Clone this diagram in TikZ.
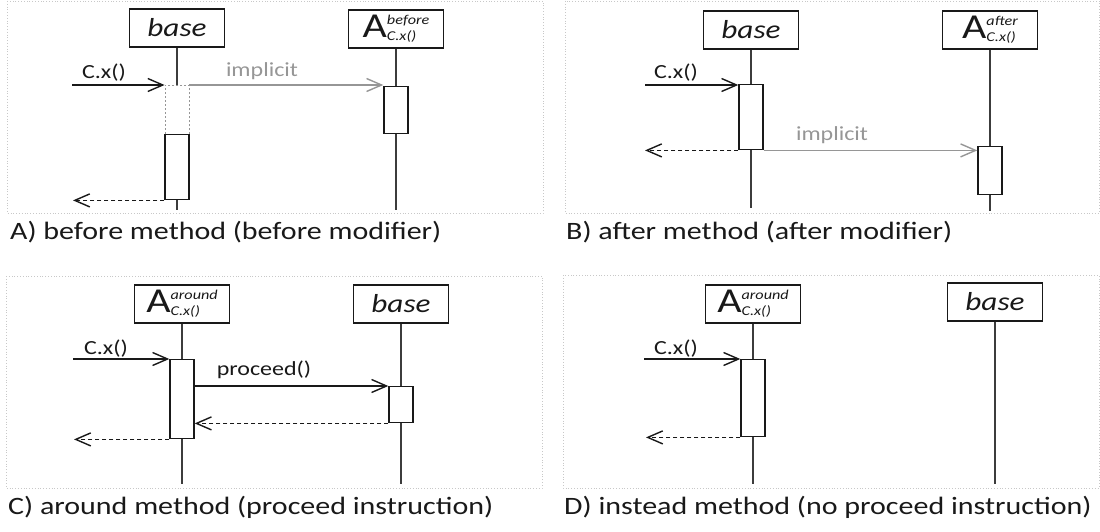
\documentclass[tikz,border=0pt]{standalone}
\usepackage{fontspec}
\setmainfont{Carlito}[FakeStretch=1.2]
\definecolor{sdblack}{RGB}{25,25,25}
\definecolor{sdgray}{RGB}{150,150,150}
\definecolor{sdframe}{RGB}{200,200,200}
\usetikzlibrary{arrows.meta,positioning}

% object labels
\newcommand{\basetxt}{{\fontsize{26}{26}\selectfont\itshape base}}
\newcommand{\advlbl}[1]{{\fontsize{35}{35}\selectfont A}%
  {\fontsize{13.5}{13.5}\selectfont\itshape\ooalign{\raisebox{13pt}{#1}\cr\raisebox{-3pt}{C.x()}\cr}}}

\tikzset{
  objbox/.style={draw=sdblack, line width=1.4pt, fill=white, text=sdblack,
    minimum width=95pt, minimum height=38pt, inner sep=0pt},
  actbox/.style={draw=sdblack, line width=1.4pt, fill=white, anchor=north,
    minimum width=24pt, inner sep=0pt},
  ghostbox/.style={actbox, draw=sdgray, line width=0.9pt, dash pattern=on 2pt off 2pt},
  life/.style={draw=sdblack!85, line width=1.4pt},
  call/.style={draw=sdblack, line width=1.4pt, -{Straight Barb[length=15pt,width=13pt]}},
  reply/.style={call, dash pattern=on 4pt off 3pt},
  implicitcall/.style={call, draw=sdgray},
  panel/.style={draw=sdframe, dotted, line width=0.8pt},
  msg/.style={font=\fontsize{20}{24}\selectfont, text=sdblack, inner sep=0pt},
  caption/.style={font=\fontsize{25}{30}\selectfont, text=sdblack, anchor=west, inner sep=0pt}
}

\begin{document}
\begin{tikzpicture}[x=1pt, y=-1pt]
  \useasboundingbox (0,0) rectangle (1100,532);

  % A) before method
  \draw[panel] (7,1) rectangle (543,213);
  \node[objbox] (baseA) at (177,28) {\basetxt};
  \node[objbox] (advA) at (396,29) {\advlbl{before}};
  \draw[life] (baseA.south) -- ++(0,162);
  \draw[life] (advA.south) -- ++(0,161);
  \node[ghostbox, minimum height=49pt] (ghostA) at (baseA |- 0,85) {};
  \node[actbox, minimum height=65pt] (actA) at (baseA |- 0,134) {};
  \node[actbox, minimum height=47pt] (actAadv) at (advA |- 0,86) {};
  \coordinate (inA) at (72,85);
  \coordinate (outA) at (73,198);
  \draw[call] (inA) -- (ghostA.north west);
  \node[msg] (cxA) at (104,73) {C.x()};
  \draw[implicitcall] (ghostA.north east) -- (ghostA.north east -| actAadv.west);
  \node[msg, text=sdgray] (implA) at (262,71) {implicit};
  \draw[reply] (actA.south west) -- (actA.south west -| outA);
  \node[caption] (capA) at (10,232) {A) before method (before modifier)};

  % B) after method
  \draw[panel] (565,1) rectangle (1099,213);
  \node[objbox] (baseB) at (751,30) {\basetxt};
  \node[objbox] (advB) at (990,30) {\advlbl{after}};
  \draw[life] (baseB.south) -- ++(0,158);
  \draw[life] (advB.south) -- ++(0,161);
  \node[actbox, minimum height=65pt] (actB) at (baseB |- 0,84) {};
  \node[actbox, minimum height=48pt] (actBadv) at (advB |- 0,146) {};
  \coordinate (inB) at (645,85);
  \coordinate (outB) at (645,149);
  \draw[call] (inB) -- (inB -| actB.west);
  \node[msg] (cxB) at (676,73) {C.x()};
  \draw[reply] (actB.south west) -- (actB.south west -| outB);
  \draw[implicitcall] (actB.south east) -- (actB.south east -| actBadv.west);
  \node[msg, text=sdgray] (implB) at (832,135) {implicit};
  \node[caption] (capB) at (566,232) {B) after method (after modifier)};

  % C) around method
  \draw[panel] (6,276) rectangle (542,488);
  \node[objbox] (advC) at (182,304) {\advlbl{around}};
  \node[objbox] (baseC) at (401,304) {\basetxt};
  \draw[life] (advC.south) -- ++(0,160);
  \draw[life] (baseC.south) -- ++(0,160);
  \node[actbox, minimum height=79pt] (actC) at (advC |- 0,359) {};
  \node[actbox, minimum height=36pt] (actCbase) at (baseC |- 0,386) {};
  \coordinate (inC) at (73,359);
  \coordinate (outC) at (74,438);
  \draw[call] (inC) -- (actC.north west);
  \node[msg] (cxC) at (106,349) {C.x()};
  \draw[call] (actC.east |- actCbase.north) -- (actCbase.north west);
  \node[msg] (procC) at (264,370) {proceed()};
  \draw[reply] (actCbase.south west) -- (actCbase.south west -| actC.east);
  \draw[reply] (actC.south west) -- (actC.south west -| outC);
  \node[caption] (capC) at (8,507) {C) around method (proceed instruction)};

  % D) instead method
  \draw[panel] (563,275) rectangle (1099,488);
  \node[objbox] (advD) at (753,304) {\advlbl{around}};
  \node[objbox] (baseD) at (995,302) {\basetxt};
  \draw[life] (advD.south) -- ++(0,160);
  \draw[life] (baseD.south) -- ++(0,162);
  \node[actbox, minimum height=77pt] (actD) at (advD |- 0,359) {};
  \coordinate (inD) at (644,359);
  \coordinate (outD) at (646,436);
  \draw[call] (inD) -- (actD.north west);
  \node[msg] (cxD) at (676,349) {C.x()};
  \draw[reply] (actD.south west) -- (actD.south west -| outD);
  \node[caption] (capD) at (564,507) {D) instead method (no proceed instruction)};
\end{tikzpicture}
\end{document}
